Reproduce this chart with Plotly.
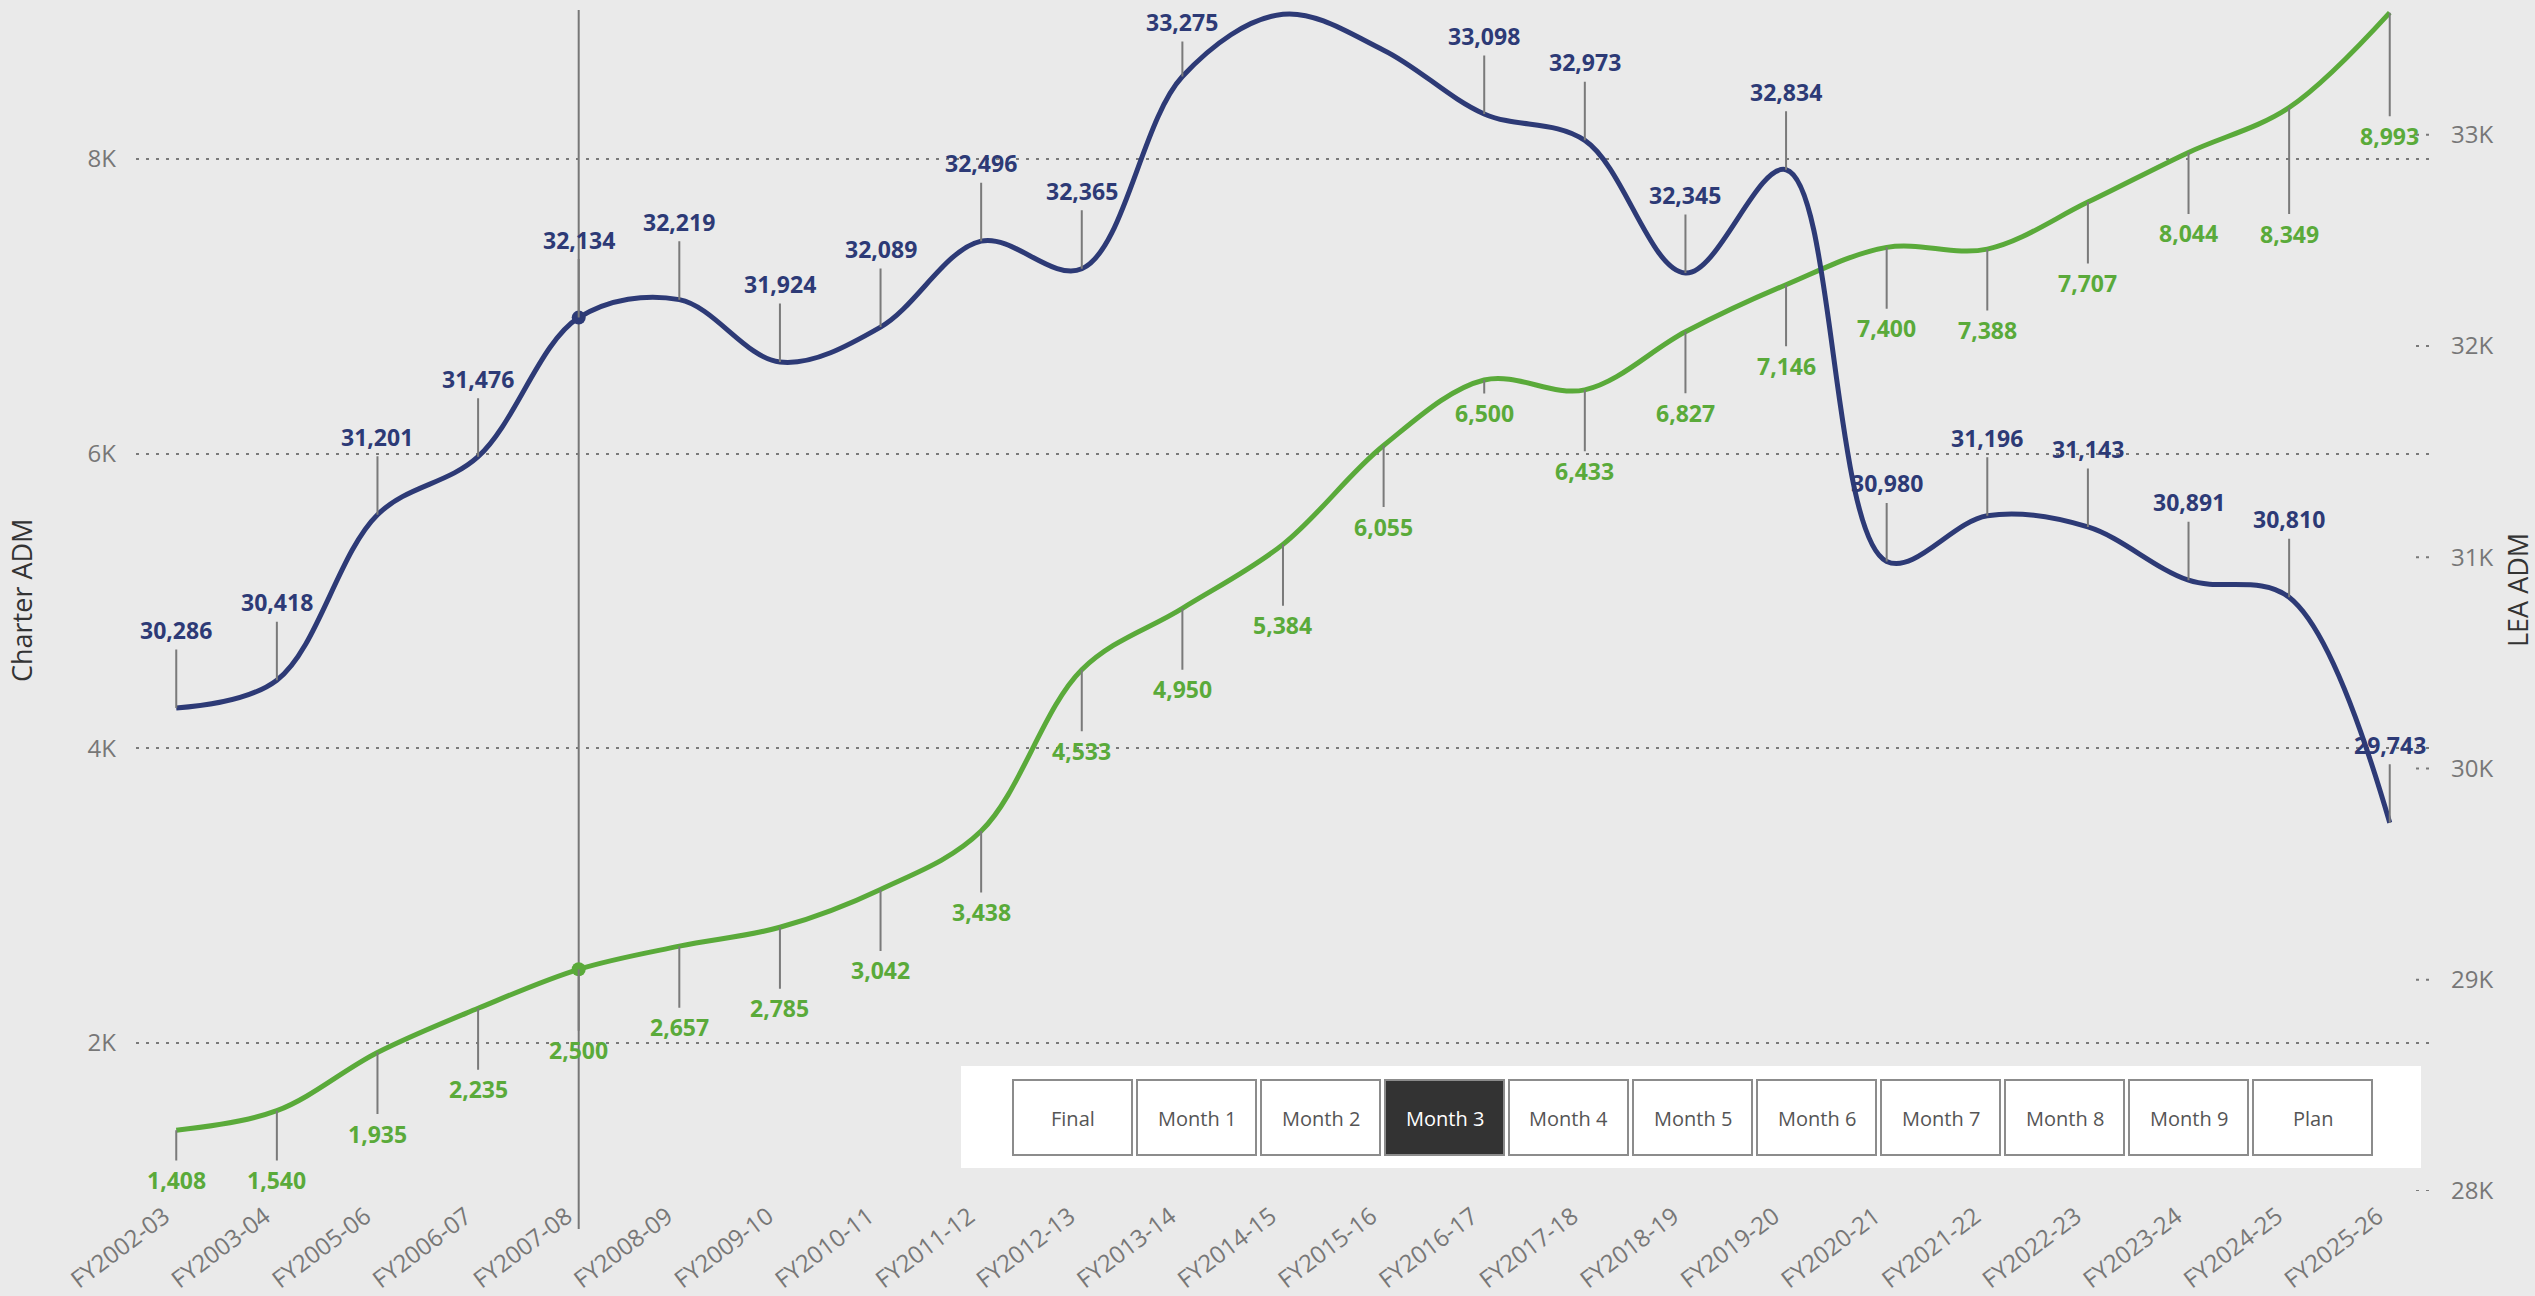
import plotly.graph_objects as go

# ---- data ----
years = ["FY2002-03", "FY2003-04", "FY2005-06", "FY2006-07", "FY2007-08", "FY2008-09",
         "FY2009-10", "FY2010-11", "FY2011-12", "FY2012-13", "FY2013-14", "FY2014-15",
         "FY2015-16", "FY2016-17", "FY2017-18", "FY2018-19", "FY2019-20", "FY2020-21",
         "FY2021-22", "FY2022-23", "FY2023-24", "FY2024-25", "FY2025-26"]
charter_adm = [1408, 1540, 1935, 2235, 2500, 2657, 2785, 3042, 3438, 4533, 4950, 5384,
               6055, 6500, 6433, 6827, 7146, 7400, 7388, 7707, 8044, 8349, 8993]
lea_adm = [30286, 30418, 31201, 31476, 32134, 32219, 31924, 32089, 32496, 32365, 33275, 33570,
           33400, 33098, 32973, 32345, 32834, 30980, 31196, 31143, 30891, 30810, 29743]
lea_hidden_labels = ["FY2014-15", "FY2015-16"]

left_ticks = [2000, 4000, 6000, 8000]
left_tick_text = ["2K", "4K", "6K", "8K"]
right_ticks = [28000, 29000, 30000, 31000, 32000, 33000]
right_tick_text = ["28K", "29K", "30K", "31K", "32K", "33K"]

period_buttons = ["Final", "Month 1", "Month 2", "Month 3", "Month 4", "Month 5",
                  "Month 6", "Month 7", "Month 8", "Month 9", "Plan"]
selected_period = "Month 3"
highlight_year = "FY2007-08"

# ---- styling ----
BLUE = "#2D3A76"
GREEN = "#5AAA3A"
BG = "#EAEAEA"
GRID = "#7A7A7A"
LEADER = "#7A7A7A"
FONT = "Open Sans"

W, H = 2535, 1296
PL, PR, PT, PB = 136, 2432, 10, 1191          # plot area in pixels
Y1 = [995, 9011]
Y2 = [28000, 33590]


def px_y(v, rng):
    return PB - (v - rng[0]) / (rng[1] - rng[0]) * (PB - PT)


def paper_x(px):
    return (px - PL) / (PR - PL)


def paper_y(py):
    return (PB - py) / (PB - PT)


fig = go.Figure()
fig.add_trace(go.Scatter(x=years, y=charter_adm, mode="lines", name="Charter ADM",
                         line=dict(color=GREEN, width=5, shape="spline", smoothing=1),
                         yaxis="y", hoverinfo="skip"))
fig.add_trace(go.Scatter(x=years, y=lea_adm, mode="lines", name="LEA ADM",
                         line=dict(color=BLUE, width=5, shape="spline", smoothing=1),
                         yaxis="y2", hoverinfo="skip"))

hi = years.index(highlight_year)
fig.add_trace(go.Scatter(x=[highlight_year], y=[charter_adm[hi]], mode="markers",
                         marker=dict(color=GREEN, size=14), yaxis="y", hoverinfo="skip"))
fig.add_trace(go.Scatter(x=[highlight_year], y=[lea_adm[hi]], mode="markers",
                         marker=dict(color=BLUE, size=14), yaxis="y2", hoverinfo="skip"))

annotations = []
label_font = dict(family=FONT, size=23, weight=700)

# LEA labels above the points
for yr, v in zip(years, lea_adm):
    if yr in lea_hidden_labels:
        continue
    p = px_y(v, Y2)
    c = max(p - 78, PT + 12)
    annotations.append(dict(x=yr, y=v, xref="x", yref="y2", text=f"{v:,}",
                            showarrow=True, arrowhead=0, arrowwidth=2, arrowcolor=LEADER,
                            ax=0, ay=c - p, borderpad=3, standoff=0,
                            font=dict(label_font, color=BLUE)))

# Charter labels below the points
green_offset = {"FY2016-17": 33, "FY2024-25": 126, "FY2025-26": 123}
for yr, v in zip(years, charter_adm):
    p = px_y(v, Y1)
    c = min(p + green_offset.get(yr, 81), PB - 11)
    annotations.append(dict(x=yr, y=v, xref="x", yref="y", text=f"{v:,}",
                            showarrow=True, arrowhead=0, arrowwidth=2, arrowcolor=LEADER,
                            ax=0, ay=c - p, borderpad=3, standoff=0,
                            font=dict(label_font, color=GREEN)))

# axis titles
annotations.append(dict(x=paper_x(21), y=paper_y(601), xref="paper", yref="paper",
                        text="Charter ADM", textangle=-90, showarrow=False,
                        xanchor="center", yanchor="middle",
                        font=dict(family=FONT, size=27, color="#333333")))
annotations.append(dict(x=paper_x(2517), y=paper_y(590), xref="paper", yref="paper",
                        text="LEA ADM", textangle=-90, showarrow=False,
                        xanchor="center", yanchor="middle",
                        font=dict(family=FONT, size=27, color="#333333")))

shapes = []
# hover crosshair
shapes.append(dict(type="line", xref="x", yref="paper", x0=highlight_year, x1=highlight_year,
                   y0=paper_y(1229), y1=1, line=dict(color="#777777", width=2), layer="between"))

# short dotted marks for the right axis
for t in right_ticks:
    shapes.append(dict(type="line", xref="paper", yref="y2", x0=paper_x(2416), x1=1, y0=t, y1=t,
                       line=dict(color=GRID, width=2, dash="3px,7px")))

# period slicer
shapes.append(dict(type="rect", xref="paper", yref="paper",
                   x0=paper_x(961), x1=paper_x(2421), y0=paper_y(1168), y1=paper_y(1066),
                   fillcolor="white", line=dict(width=0), layer="above"))
for i, lab in enumerate(period_buttons):
    x0 = 1013 + 124 * i
    sel = lab == selected_period
    shapes.append(dict(type="rect", xref="paper", yref="paper",
                       x0=paper_x(x0), x1=paper_x(x0 + 119), y0=paper_y(1155), y1=paper_y(1080),
                       fillcolor="#333333" if sel else "white",
                       line=dict(color="#8C8C8C", width=2), layer="above"))
    annotations.append(dict(x=paper_x(x0 + 59.5), y=paper_y(1118), xref="paper", yref="paper",
                            text=lab, showarrow=False, xanchor="center", yanchor="middle",
                            font=dict(family=FONT, size=20, color="white" if sel else "#555555")))

fig.update_layout(
    width=W, height=H, autosize=False,
    margin=dict(l=PL, r=W - PR, t=PT, b=H - PB, pad=0, autoexpand=False),
    paper_bgcolor=BG, plot_bgcolor=BG,
    showlegend=False,
    font=dict(family=FONT, color="#777777"),
    xaxis=dict(type="category", range=[-0.40, 22.42], tickangle=-37, automargin=False,
               tickfont=dict(size=24, color="#777777"), showgrid=False, zeroline=False,
               showline=False, ticks="", ticklabelstandoff=6, ticklabelshift=-12),
    yaxis=dict(range=Y1, tickvals=left_ticks, ticktext=left_tick_text, automargin=False,
               tickfont=dict(size=24, color="#777777"), showgrid=True, gridcolor=GRID,
               gridwidth=2, griddash="3px,7px", zeroline=False, showline=False,
               ticks="", ticklabelstandoff=19),
    yaxis2=dict(range=Y2, overlaying="y", side="right", tickvals=right_ticks, automargin=False,
                ticktext=right_tick_text, tickfont=dict(size=24, color="#777777"),
                showgrid=False, zeroline=False, showline=False, ticks="",
                ticklabelstandoff=18),
    annotations=annotations,
    shapes=shapes,
)

fig.write_html("out.html", config={"displayModeBar": False},
               post_script="document.body.style.margin='0';document.body.style.overflow='hidden';")
